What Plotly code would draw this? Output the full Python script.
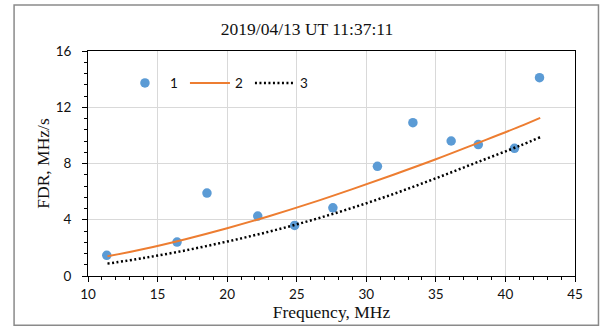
import plotly.graph_objects as go

# Observed FDR points (series 1)
freq_obs = [11.35, 16.4, 18.55, 22.2, 24.85, 27.6, 30.8, 33.35, 36.1, 38.05, 40.65, 42.45]
fdr_obs = [1.47, 2.41, 5.9, 4.26, 3.6, 4.85, 7.8, 10.9, 9.6, 9.35, 9.08, 14.1]

# Model curve 2 (orange solid)
freq_c2 = [11.4, 14, 17, 20, 23, 26, 29, 32, 35, 38, 41, 42.5]
fdr_c2 = [1.40, 1.92, 2.62, 3.40, 4.25, 5.18, 6.18, 7.22, 8.30, 9.45, 10.62, 11.25]

# Model curve 3 (black dotted)
freq_c3 = [11.4, 14, 17, 20, 23, 26, 29, 32, 35, 38, 41, 42.5]
fdr_c3 = [0.88, 1.28, 1.82, 2.45, 3.15, 3.95, 4.85, 5.85, 6.95, 8.1, 9.25, 9.87]

names = ["1", "2", "3"]
title_text = "2019/04/13 UT 11:37:11"
x_title = "Frequency, MHz"
y_title = "FDR, MHz/s"

fig = go.Figure()
fig.add_trace(go.Scatter(x=freq_obs, y=fdr_obs, mode="markers", name=names[0],
                         marker=dict(size=9.5, color="#5B9BD5")))
fig.add_trace(go.Scatter(x=freq_c2, y=fdr_c2, mode="lines", name=names[1],
                         line=dict(color="#ED7D31", width=2, shape="spline")))
fig.add_trace(go.Scatter(x=freq_c3, y=fdr_c3, mode="lines", name=names[2],
                         line=dict(color="black", width=2.5, dash="2px,2.5px", shape="spline")))

L, R, T, B = 88, 24.5, 51, 52.3
fig.update_layout(
    width=600, height=328,
    margin=dict(l=L, r=R, t=T, b=B),
    paper_bgcolor="white", plot_bgcolor="white",
    title=dict(text=title_text, x=(307 / 600), xanchor="center", y=1 - 29 / 328, yanchor="middle",
               font=dict(family="Liberation Serif", size=17.5, color="#111")),
    showlegend=True,
    legend=dict(orientation="h", x=0.0656, y=0.857, xanchor="left", yanchor="middle",
                bgcolor="rgba(0,0,0,0)", font=dict(family="Lato", size=13.5, color="#111"),
                entrywidth=10, entrywidthmode="pixels", itemwidth=40),
    xaxis=dict(range=[10, 45], dtick=5, tick0=10,
               showgrid=True, gridcolor="#D9D9D9", gridwidth=1,
               showline=True, linecolor="black", linewidth=1, mirror=True,
               ticks="outside", ticklen=5, tickcolor="black",
               minor=dict(dtick=1, ticks="outside", ticklen=3, tickcolor="black", showgrid=False),
               tickfont=dict(family="Lato", size=13.5, color="#111"),
               ticklabelstandoff=1,
               title=dict(text=x_title, standoff=2, font=dict(family="Liberation Serif", size=17.5, color="#111")),
               zeroline=False),
    yaxis=dict(range=[0, 16], dtick=4, tick0=0,
               showgrid=True, gridcolor="#D9D9D9", gridwidth=1,
               showline=True, linecolor="black", linewidth=1, mirror=True,
               ticks="outside", ticklen=5, tickcolor="black",
               minor=dict(dtick=0.8, tick0=0, ticks="outside", ticklen=3, tickcolor="black", showgrid=False),
               tickfont=dict(family="Lato", size=13.5, color="#111"),
               ticklabelstandoff=8,
               title=dict(text=y_title, standoff=1, font=dict(family="Liberation Serif", size=17.5, color="#111")),
               zeroline=False),
)

pw, ph = 600 - L - R, 328 - T - B
fig.add_shape(type="rect", xref="paper", yref="paper",
              x0=(14 - L) / pw, x1=(599 - L) / pw,
              y0=(328 - B - 325) / ph, y1=(328 - B - 5) / ph,
              line=dict(color="#8a8a8a", width=1.5), layer="below")

fig.write_html("out.html")
